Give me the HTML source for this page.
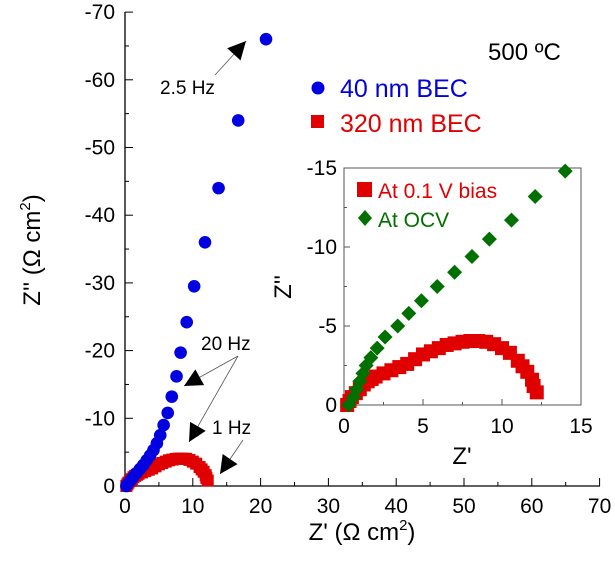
<!DOCTYPE html>
<html><head><meta charset="utf-8"><style>
body{margin:0;background:#fff}
svg{display:block;font-family:"Liberation Sans",Arial,sans-serif}
</style></head><body>
<svg id="c" width="615" height="572"></svg>
<script>
const mainXTicks=[0,10,20,30,40,50,60,70];
const mainYTicks=[0,-10,-20,-30,-40,-50,-60,-70];
const blueRe=[0.2,0.4,0.8,1.2,1.7,2.2,2.7,3.2,3.7,4.2,4.7,5.2,5.7,6.3,6.9,7.6,8.2,9.1,10.2,11.8,13.8,16.7,20.8];
const blueIm=[0,-0.3,-0.8,-1.3,-1.9,-2.5,-3.1,-3.8,-4.5,-5.3,-6.3,-7.5,-9,-10.8,-13.2,-16.2,-19.7,-24.2,-29.5,-36,-44,-54,-66];
const redRe=[0.2,0.35,0.5,0.75,1,1.25,1.5,1.75,2,2.5,3,3.5,4,4.5,5,5.5,6,6.5,7,7.5,8,8.5,9,9.5,10,10.5,11,11.3,11.6,11.9,12,12.2];
const redIm=[0,-0.25,-0.5,-0.75,-1,-1.3,-1.5,-1.65,-1.8,-2,-2.2,-2.4,-2.6,-2.9,-3.2,-3.4,-3.6,-3.8,-3.9,-4,-4.05,-4.05,-4,-3.85,-3.6,-3.3,-2.8,-2.45,-2.1,-1.6,-1.2,-0.8];
const greenRe=[0.3,0.6,0.8,1,1.2,1.4,1.7,2.1,2.6,3.4,4.1,4.9,5.9,7,8.1,9.2,10.6,12.1,14];
const greenIm=[0,-0.5,-1,-1.5,-2,-2.5,-3,-3.6,-4.3,-5,-5.8,-6.6,-7.5,-8.4,-9.4,-10.5,-11.7,-13.2,-14.8];
const insetTicks=[0,5,10,15];
const insetYTicks=[0,-5,-10,-15];

const NS="http://www.w3.org/2000/svg",svg=document.getElementById('c');
function mk(t,a,p){const e=document.createElementNS(NS,t);for(const k in a)e.setAttribute(k,a[k]);(p||svg).appendChild(e);return e;}
const mx=v=>125+v*6.78, my=v=>486+v*6.77;
const ix=v=>344+v*15.8, iy=v=>405+v*15.8;

let g=mk('g',{});
mk('line',{x1:125,y1:12,x2:125,y2:486,stroke:'#000','stroke-width':1.3},g);
mk('line',{x1:125,y1:486,x2:600,y2:486,stroke:'#000','stroke-width':1.3},g);
mainXTicks.forEach((v,i)=>{
  mk('line',{x1:mx(v),y1:486,x2:mx(v),y2:478,stroke:'#000'},g);
  if(i<mainXTicks.length-1)mk('line',{x1:mx(v+5),y1:486,x2:mx(v+5),y2:482,stroke:'#000'},g);
  const t=mk('text',{x:mx(v),y:513,'text-anchor':'middle','font-size':21},g);t.textContent=v;
  
});
mainYTicks.forEach((v,i)=>{
  mk('line',{x1:125,y1:my(v),x2:133,y2:my(v),stroke:'#000'},g);
  if(i<mainYTicks.length-1)mk('line',{x1:125,y1:my(v-5),x2:129,y2:my(v-5),stroke:'#000'},g);
  const t=mk('text',{x:115,y:my(v)+7,'text-anchor':'end','font-size':21},g);t.textContent=v;
  
});
let t=mk('text',{x:362,y:540,'text-anchor':'middle','font-size':24});
t.innerHTML="Z' (Ω cm<tspan font-size='15' dy='-10'>2</tspan><tspan dy='10'>)</tspan>";

t=mk('text',{x:0,y:0,'text-anchor':'middle','font-size':24,transform:'translate(40,250) rotate(-90)'});
t.innerHTML="Z'' (Ω cm<tspan font-size='15' dy='-10'>2</tspan><tspan dy='10'>)</tspan>";


redRe.forEach((v,i)=>{const e=mk('rect',{x:mx(v)-6,y:my(redIm[i])-6,width:12,height:12,fill:'#e00000'});
 });
blueRe.forEach((v,i)=>{const e=mk('circle',{cx:mx(v),cy:my(blueIm[i]),r:6.3,fill:'#0000e0'});
 });

function arrow(x1,y1,x2,y2){mk('line',{x1,y1,x2,y2,stroke:'#555','stroke-width':0.8});
 const a=Math.atan2(y2-y1,x2-x1),L=18,W=9;
 const bx=x2-L*Math.cos(a),by=y2-L*Math.sin(a);
 mk('polygon',{points:`${x2},${y2} ${bx-W*Math.sin(a)},${by+W*Math.cos(a)} ${bx+W*Math.sin(a)},${by-W*Math.cos(a)}`,fill:'#000'});}
arrow(215,75,246,41);arrow(238,356,184,386);arrow(238,356,189,442);arrow(243,440,220,474);
[["2.5 Hz",160,94],["20 Hz",201,350],["1 Hz",212,434]].forEach(a=>{const e=mk('text',{x:a[1],y:a[2],'font-size':19});e.textContent=a[0];
 });

t=mk('text',{x:488,y:60,'font-size':24});t.textContent="500 ºC";
let lg=mk('g',{});
mk('circle',{cx:318,cy:88,r:6.5,fill:'#0000e0'},lg);
t=mk('text',{x:340,y:97,'font-size':25,fill:'#0000e0'},lg);t.textContent="40 nm BEC";
mk('rect',{x:311,y:115,width:13,height:13,fill:'#e00000'},lg);
t=mk('text',{x:340,y:132,'font-size':25,fill:'#e00000'},lg);t.textContent="320 nm BEC";

let ig=mk('g',{});
mk('rect',{x:344,y:168,width:237,height:237,fill:'#fff',stroke:'#555','stroke-width':1},ig);
insetTicks.forEach((v,i)=>{
  mk('line',{x1:ix(v),y1:405,x2:ix(v),y2:399,stroke:'#555'},ig);
  if(i<3)mk('line',{x1:ix(v+2.5),y1:405,x2:ix(v+2.5),y2:402,stroke:'#555'},ig);
  const e=mk('text',{x:ix(v),y:433,'text-anchor':'middle','font-size':21},ig);e.textContent=v;
});
insetYTicks.forEach((v,i)=>{
  mk('line',{x1:344,y1:iy(v),x2:350,y2:iy(v),stroke:'#555'},ig);
  if(i<3)mk('line',{x1:344,y1:iy(v-2.5),x2:347,y2:iy(v-2.5),stroke:'#555'},ig);
  const e=mk('text',{x:337,y:iy(v)+7,'text-anchor':'end','font-size':21},ig);e.textContent=v;
});
t=mk('text',{x:462,y:464,'text-anchor':'middle','font-size':24});t.textContent="Z'";
t=mk('text',{x:0,y:0,'text-anchor':'middle','font-size':24,transform:'translate(291,287) rotate(-90)'});t.textContent="Z''";
redRe.forEach((v,i)=>{const e=mk('rect',{x:ix(v)-7,y:iy(redIm[i])-7,width:14,height:14,fill:'#e00000'});
 });
greenRe.forEach((v,i)=>{const x=ix(v),y=iy(greenIm[i]);const e=mk('polygon',{points:`${x},${y-7.5} ${x+7.5},${y} ${x},${y+7.5} ${x-7.5},${y}`,fill:'#007000'});
 });
let il=mk('g',{});
mk('rect',{x:357,y:182,width:15,height:15,fill:'#e00000'},il);
t=mk('text',{x:378,y:198,'font-size':21,fill:'#e00000'},il);t.textContent="At 0.1 V bias";
mk('polygon',{points:"365,210 372,218 365,226 358,218",fill:'#007000'},il);
t=mk('text',{x:378,y:227,'font-size':21,fill:'#007000'},il);t.textContent="At OCV";
</script>
</body></html>
